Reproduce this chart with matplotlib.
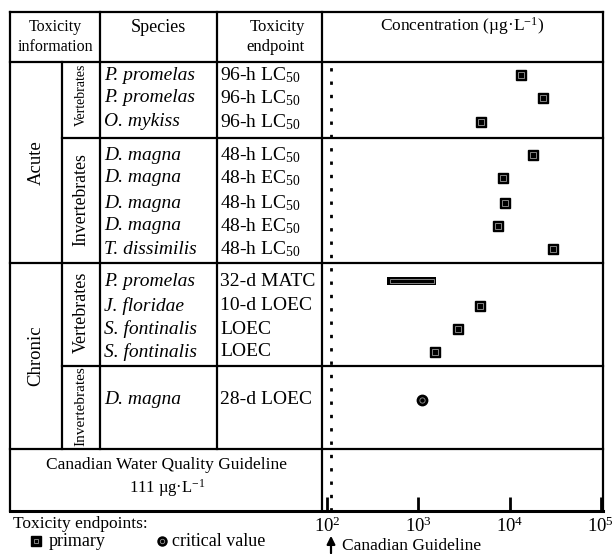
import numpy as np
import matplotlib
matplotlib.use("Agg")
import matplotlib.pyplot as plt

plt.rcParams['font.family'] = ['Liberation Serif', 'DejaVu Serif']
plt.rcParams['mathtext.fontset'] = 'custom'
plt.rcParams['mathtext.rm'] = 'Liberation Serif'
plt.rcParams['mathtext.it'] = 'Liberation Serif:italic'

# data
species = ['P. promelas', 'P. promelas', 'O. mykiss',
           'D. magna', 'D. magna', 'D. magna', 'D. magna', 'T. dissimilis',
           'P. promelas', 'J. floridae', 'S. fontinalis', 'S. fontinalis',
           'D. magna']
endpoints = ['96-h LC$_{50}$', '96-h LC$_{50}$', '96-h LC$_{50}$',
             '48-h LC$_{50}$', '48-h EC$_{50}$', '48-h LC$_{50}$', '48-h EC$_{50}$', '48-h LC$_{50}$',
             '32-d MATC', '10-d LOEC', 'LOEC', 'LOEC',
             '28-d LOEC']
conc = [13200, 23000, 4900,
        17900, 8400, 8900, 7500, 30000,
        None, 4800, 2700, 1540,
        1100]
matc_range = (455, 1580)      # P. promelas 32-d MATC
kind = ['primary'] * 12 + ['critical']
guideline = 111
decades = [1e2, 1e3, 1e4, 1e5]
decade_labels = ['10$^{2}$', '10$^{3}$', '10$^{4}$', '10$^{5}$']

# layout (pixels)
W, H = 613, 554
row_y = [75, 98, 122, 155, 178, 203, 226, 249, 281, 306, 329, 352, 400]
x_left, x_c1, x_c2, x_c3, x_c4, x_right = 10, 62, 100, 217, 322, 603
y_top, y_head, y_mid1, y_acute, y_mid2, y_chron, y_bot = 12, 62, 138, 263, 366, 449, 511
x_dec2, px_dec = 327, 91.3
LW = 1.6

fig = plt.figure(figsize=(W / 100, H / 100), dpi=100)
ax = fig.add_axes([0, 0, 1, 1])
ax.set_xlim(0, W)
ax.set_ylim(H, 0)
ax.axis('off')


def hline(y, x0, x1):
    ax.plot([x0, x1], [y, y], color='black', lw=LW, solid_capstyle='projecting')


def vline(x, y0, y1):
    ax.plot([x, x], [y0, y1], color='black', lw=LW, solid_capstyle='projecting')


# table grid
hline(y_top, x_left, x_right)
hline(y_head, x_left, x_right)
hline(y_mid1, x_c1, x_right)
hline(y_acute, x_left, x_right)
hline(y_mid2, x_c1, x_right)
hline(y_chron, x_left, x_right)
ax.plot([x_left, x_right], [y_bot, y_bot], color='black', lw=2.2, solid_capstyle='projecting')
vline(x_left, y_top, y_bot)
vline(x_right, y_top, y_bot)
vline(x_c4, y_top, y_bot)
vline(x_c2, y_top, y_chron)
vline(x_c3, y_top, y_chron)
vline(x_c1, y_head, y_chron)

# header
ax.text((x_left + x_c2) / 2, 37, 'Toxicity\ninformation', ha='center', va='center', fontsize=11.5, linespacing=1.35)
ax.text((x_c2 + x_c3) / 2, 27, 'Species', ha='center', va='center', fontsize=13)
ax.text((x_c3 + x_c4) / 2 + 8, 27, 'Toxicity', ha='center', va='center', fontsize=12)
ax.text((x_c3 + x_c4) / 2 + 6, 47, 'endpoint', ha='center', va='center', fontsize=12)
ax.text((x_c4 + x_right) / 2, 26, 'Concentration (\u00b5g\u00b7L$^{-1}$)', ha='center', va='center', fontsize=12.5)

# group labels
ax.text(36, (y_head + y_acute) / 2, 'Acute', rotation=90, ha='center', va='center', fontsize=13.5)
ax.text(36, (y_acute + y_chron) / 2, 'Chronic', rotation=90, ha='center', va='center', fontsize=13.5)
ax.text(81, 95, 'Vertebrates', rotation=90, ha='center', va='center', fontsize=10)
ax.text(81, 200, 'Invertebrates', rotation=90, ha='center', va='center', fontsize=12.8)
ax.text(81, 312, 'Vertebrates', rotation=90, ha='center', va='center', fontsize=13)
ax.text(81, (y_mid2 + y_chron) / 2 - 1, 'Invertebrates', rotation=90, ha='center', va='center', fontsize=11)

for y, sp, ep in zip(row_y, species, endpoints):
    ax.text(x_c2 + 4, y, sp, ha='left', va='center', fontsize=14, style='italic')
    ax.text(x_c3 + 3, y, ep, ha='left', va='center', fontsize=14)

ax.text((x_left + x_c4) / 2, 465, 'Canadian Water Quality Guideline', ha='center', va='center', fontsize=12.5)
ax.text((x_left + x_c4) / 2 + 1, 488, '111 \u00b5g\u00b7L$^{-1}$', ha='center', va='center', fontsize=12)

# legend
ax.text(13, 524, 'Toxicity endpoints:', ha='left', va='center', fontsize=12.5)
ax.plot([36], [541], marker='s', ms=6.5, color='black', mec='black')
ax.plot([36], [541], marker='s', ms=3.2, mfc='none', mec='#999999', mew=0.6)
ax.text(49, 541, 'primary', ha='left', va='center', fontsize=13)
ax.plot([162], [541], marker='o', ms=6.5, color='black')
ax.plot([162], [541], marker='o', ms=3.2, mfc='none', mec='#999999', mew=0.6)
ax.text(172, 541, 'critical value', ha='left', va='center', fontsize=13)

# guideline arrow
ax.annotate('', xy=(331, 533), xytext=(331, H + 2),
            arrowprops=dict(arrowstyle='-|>', color='black', lw=1.6, mutation_scale=12))
ax.text(342, 546, 'Canadian Guideline', ha='left', va='center', fontsize=12.5)

# data axes: log scale over the concentration column
dax = fig.add_axes([x_c4 / W, 1 - y_bot / H, (x_right - x_c4) / W, (y_bot - y_head) / H])
dax.set_xscale('log')
dax.set_xlim(10 ** (2 - (x_dec2 - x_c4) / px_dec), 10 ** (2 + (x_right - x_dec2) / px_dec))
dax.set_ylim(y_bot, y_head)
dax.patch.set_alpha(0)
for s in dax.spines.values():
    s.set_visible(False)
dax.set_yticks([])
dax.set_xticks(decades)
dax.set_xticklabels(decade_labels, fontsize=13.5)
dax.xaxis.set_minor_locator(matplotlib.ticker.NullLocator())
dax.tick_params(axis='x', direction='in', length=10, width=2, pad=4)

dax.axvline(guideline, color='black', lw=2, ls=(0, (1.2, 3.6)))

for y, c, k in zip(row_y, conc, kind):
    if c is None:
        continue
    m = 's' if k == 'primary' else 'o'
    dax.plot([c], [y], marker=m, ms=7.5, color='black', zorder=3)
    dax.plot([c], [y], marker=m, ms=3.8, mfc='none', mec='#999999', mew=0.6, zorder=4)

lo, hi = matc_range
dax.barh(row_y[8], hi - lo, left=lo, height=8, color='black', zorder=3)
dax.barh(row_y[8], hi * 0.93 - lo * 1.07, left=lo * 1.07, height=3.5, color='none',
         edgecolor='#999999', lw=0.6, zorder=4)

fig.savefig('out.png', dpi=100)
